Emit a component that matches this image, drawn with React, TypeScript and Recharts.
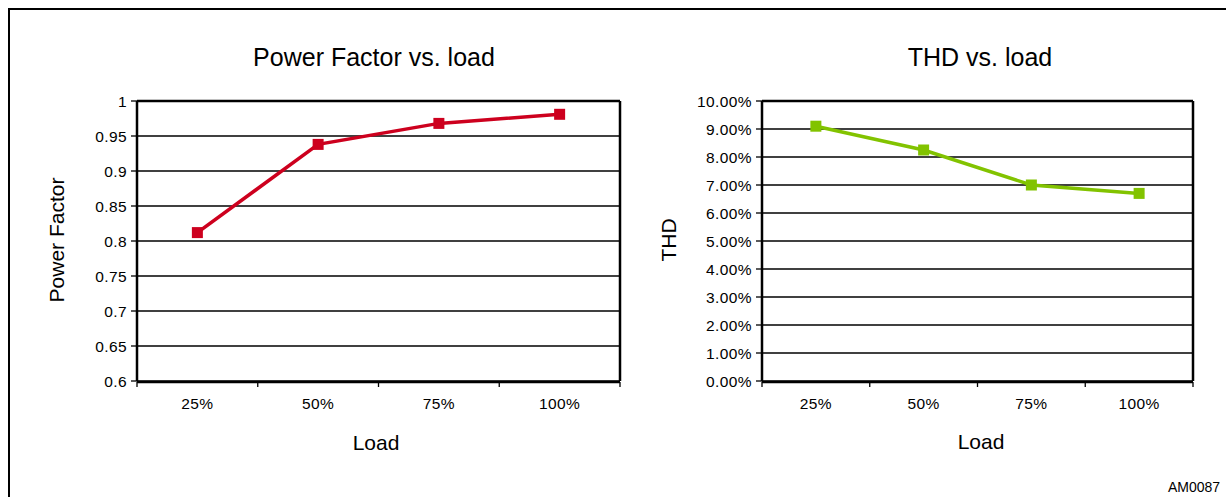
import React from 'react';
import { LineChart, Line, XAxis, YAxis, CartesianGrid } from 'recharts';

const loads = ['25%', '50%', '75%', '100%'];
const powerFactor = [0.812, 0.938, 0.968, 0.981];
const thd = [9.1, 8.25, 7.0, 6.7];
const pfTicks = [0.6, 0.65, 0.7, 0.75, 0.8, 0.85, 0.9, 0.95, 1];
const thdTicks = [0, 1, 2, 3, 4, 5, 6, 7, 8, 9, 10];
const edgeTicks = [0, 1, 2, 3, 4];

const FONT = '"Liberation Sans", Arial, Helvetica, sans-serif';
const RED = '#cd001e';
const GREEN = '#82c300';

// pos = slot centre on the 0..4 edge axis, so boundary ticks fall between categories
const data = loads.map((load, i) => ({ load, pos: i + 0.5, pf: powerFactor[i], thd: thd[i] }));

const squareDot = (color: string) => (props: any) => {
  const { cx, cy, index } = props;
  if (cx == null || cy == null) return <g key={`d-${index}`} />;
  return <rect key={`d-${index}`} x={cx - 5.5} y={cy - 5.5} width={11} height={11} fill={color} />;
};

const tickStyle = { fill: '#000', fontSize: 15.5, fontFamily: FONT, letterSpacing: 0.4 };

interface PanelProps {
  dataKey: string;
  color: string;
  domain: [number, number];
  ticks: number[];
  yWidth: number;
  rightMargin: number;
  width: number;
  fmt: (v: number) => string;
}

const Panel: React.FC<PanelProps> = ({ dataKey, color, domain, ticks, yWidth, rightMargin, width, fmt }) => (
  <LineChart
    width={width}
    height={497}
    data={data}
    margin={{ top: 100, right: rightMargin, bottom: 114, left: 0 }}
  >
    <CartesianGrid vertical={false} stroke="#000" strokeWidth={1.3} />
    <XAxis
      xAxisId="edge"
      dataKey="pos"
      type="number"
      domain={[0, 4]}
      ticks={edgeTicks}
      interval={0}
      height={1}
      axisLine={{ stroke: '#000', strokeWidth: 2.5 }}
      tick={{ fontSize: 1 }}
      tickFormatter={() => ''}
      tickLine={{ stroke: '#000', strokeWidth: 1.3 }}
      tickSize={5}
    />
    <XAxis
      xAxisId="cat"
      dataKey="load"
      scale="band"
      height={1}
      axisLine={false}
      tickLine={false}
      tickSize={6}
      tickMargin={11}
      tick={tickStyle}
      interval={0}
    />
    <XAxis
      xAxisId="top"
      dataKey="load"
      orientation="top"
      height={1}
      axisLine={{ stroke: '#000', strokeWidth: 2.5 }}
      tickLine={false}
      tick={false}
    />
    <YAxis
      domain={domain}
      ticks={ticks}
      interval={0}
      width={yWidth}
      axisLine={{ stroke: '#000', strokeWidth: 2.5 }}
      tickLine={{ stroke: '#000', strokeWidth: 1.3 }}
      tickSize={6}
      tickMargin={4}
      tick={tickStyle}
      tickFormatter={fmt}
    />
    <YAxis
      yAxisId="r"
      orientation="right"
      domain={domain}
      width={1}
      axisLine={{ stroke: '#000', strokeWidth: 2.5 }}
      tickLine={false}
      tick={false}
    />
    <Line
      xAxisId="cat"
      type="linear"
      dataKey={dataKey}
      stroke={color}
      strokeWidth={3.5}
      dot={squareDot(color)}
      activeDot={false}
      isAnimationActive={false}
    />
  </LineChart>
);

const App: React.FC = () => (
  <div
    style={{
      position: 'absolute',
      left: 0,
      top: 0,
      width: 1226,
      height: 497,
      overflow: 'hidden',
      background: '#fff',
    }}
  >
    <div
      style={{
        position: 'absolute',
        left: 8,
        top: 8,
        width: 1400,
        height: 700,
        border: '2px solid #000',
      }}
    />
    <div style={{ position: 'absolute', left: 0, top: 0 }}>
      <Panel
        dataKey="pf"
        color={RED}
        domain={[0.6, 1]}
        ticks={pfTicks}
        yWidth={137}
        rightMargin={19}
        width={640}
        fmt={(v) => String(v)}
      />
    </div>
    <div style={{ position: 'absolute', left: 620, top: 0 }}>
      <Panel
        dataKey="thd"
        color={GREEN}
        domain={[0, 10]}
        ticks={thdTicks}
        yWidth={142}
        rightMargin={32}
        width={606}
        fmt={(v) => `${v.toFixed(2)}%`}
      />
    </div>
    <svg
      width={1226}
      height={497}
      style={{ position: 'absolute', left: 0, top: 0, pointerEvents: 'none' }}
      fontFamily={FONT}
    >
      <text x={374} y={66} textAnchor="middle" fontSize={25} fill="#000">
        Power Factor vs. load
      </text>
      <text x={980} y={66} textAnchor="middle" fontSize={25} fill="#000">
        THD vs. load
      </text>
      <text x={64} y={240} textAnchor="middle" fontSize={21} fill="#000" transform="rotate(-90 64 240)">
        Power Factor
      </text>
      <text x={676} y={240} textAnchor="middle" fontSize={21} fill="#000" transform="rotate(-90 676 240)">
        THD
      </text>
      <text x={376} y={450} textAnchor="middle" fontSize={21} fill="#000">
        Load
      </text>
      <text x={981} y={449} textAnchor="middle" fontSize={21} fill="#000">
        Load
      </text>
      <text x={1168} y={492} fontSize={14} fill="#000">
        AM0087
      </text>
    </svg>
  </div>
);

export default App;
